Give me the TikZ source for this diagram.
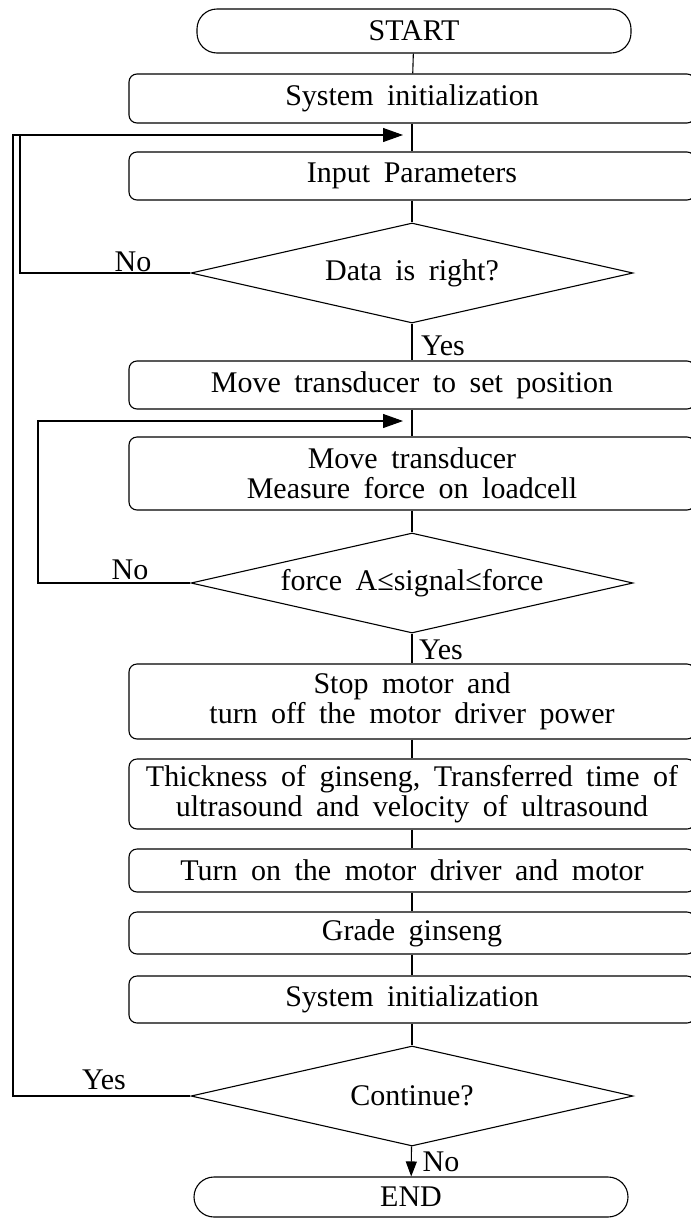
\documentclass[tikz,border=0pt]{standalone}
\usepackage{fontspec}
\setmainfont{Liberation Serif}[WordSpace=1.8]
\usetikzlibrary{arrows.meta,shapes.geometric}
\begin{document}
\begin{tikzpicture}[x=1pt,y=-1pt,
  every node/.style={font=\fontsize{30}{30}\selectfont},
  box/.style={draw, rounded corners=8pt, line width=1.1pt, minimum width=566pt, inner sep=0pt, align=center},
  term/.style={draw, rounded corners=20pt, line width=1.1pt, minimum width=434pt, inner sep=0pt},
  dec/.style={draw, diamond, aspect=4.4, minimum width=442pt, minimum height=100pt, inner sep=0pt, line width=1.1pt},
  lbl/.style={inner sep=0pt},
  ln/.style={line width=1.1pt},
  arr/.style={ln, -{Triangle[length=20pt,width=14pt]}},
]
\useasboundingbox (0,0) rectangle (691,1219);
\clip (0,0) rectangle (691,1219);
\node[term, minimum height=44pt] (start) at (414,31) {START};
\node[box, minimum height=49pt] (sys1) at (412,98.5) {System initialization};
\node[box, minimum height=48pt] (inp) at (412,176) {Input Parameters};
\node[dec] (data) at (412,273) {Data is right?};
\node[box, minimum height=48pt] (mv1) at (412,385) {Move transducer to set position};
\node[box, minimum height=73pt] (mv2) at (412,473.5) {Move transducer\\Measure force on loadcell};
\node[dec] (force) at (412,583) {force A≤signal≤force};
\node[box, minimum height=75pt] (stop) at (412,701.5) {Stop motor and\\turn off the motor driver power};
\node[box, minimum height=70pt] (thick) at (412,794) {Thickness of ginseng, Transferred time of\\ultrasound and velocity of ultrasound};
\node[box, minimum height=43pt] (turn) at (412,870.5) {Turn on the motor driver and motor};
\node[box, minimum height=42pt] (grade) at (412,933) {Grade ginseng};
\node[box, minimum height=47pt] (sys2) at (412,999.5) {System initialization};
\node[dec] (cont) at (412,1096) {Continue?};
\node[term, minimum height=40pt] (end) at (411,1197) {END};

\coordinate (j1) at (412,135);
\coordinate (j2) at (412,421);
\coordinate (c0) at (13,135);
\coordinate (c1) at (20,135);
\coordinate (c2) at (38,421);

\draw[ln] (start) -- (sys1);
\draw[ln] (sys1) -- (inp);
\draw[ln] (inp) -- (data);
\draw[ln] (data) -- (mv1);
\draw[ln] (mv1) -- (mv2);
\draw[ln] (mv2) -- (force);
\draw[ln] (force) -- (stop);
\draw[ln] (stop) -- (thick);
\draw[ln] (thick) -- (turn);
\draw[ln] (turn) -- (grade);
\draw[ln] (grade) -- (sys2);
\draw[ln] (sys2) -- (cont);
\draw[ln, -{Triangle[length=15pt,width=11pt]}] (cont) -- (end);

\draw[arr, shorten >=9pt] (cont.west) -| (c0) -- (j1);
\draw[ln] (data.west) -| (c1);
\draw[arr, shorten >=9pt] (force.west) -| (c2) -- (j2);

\node[lbl] (no1) at (133,262) {No};
\node[lbl] (yes1) at (443,346) {Yes};
\node[lbl] (no2) at (130,570) {No};
\node[lbl] (yes2) at (441,650) {Yes};
\node[lbl] (yes3) at (104,1080) {Yes};
\node[lbl] (no3) at (441,1162) {No};
\end{tikzpicture}
\end{document}
